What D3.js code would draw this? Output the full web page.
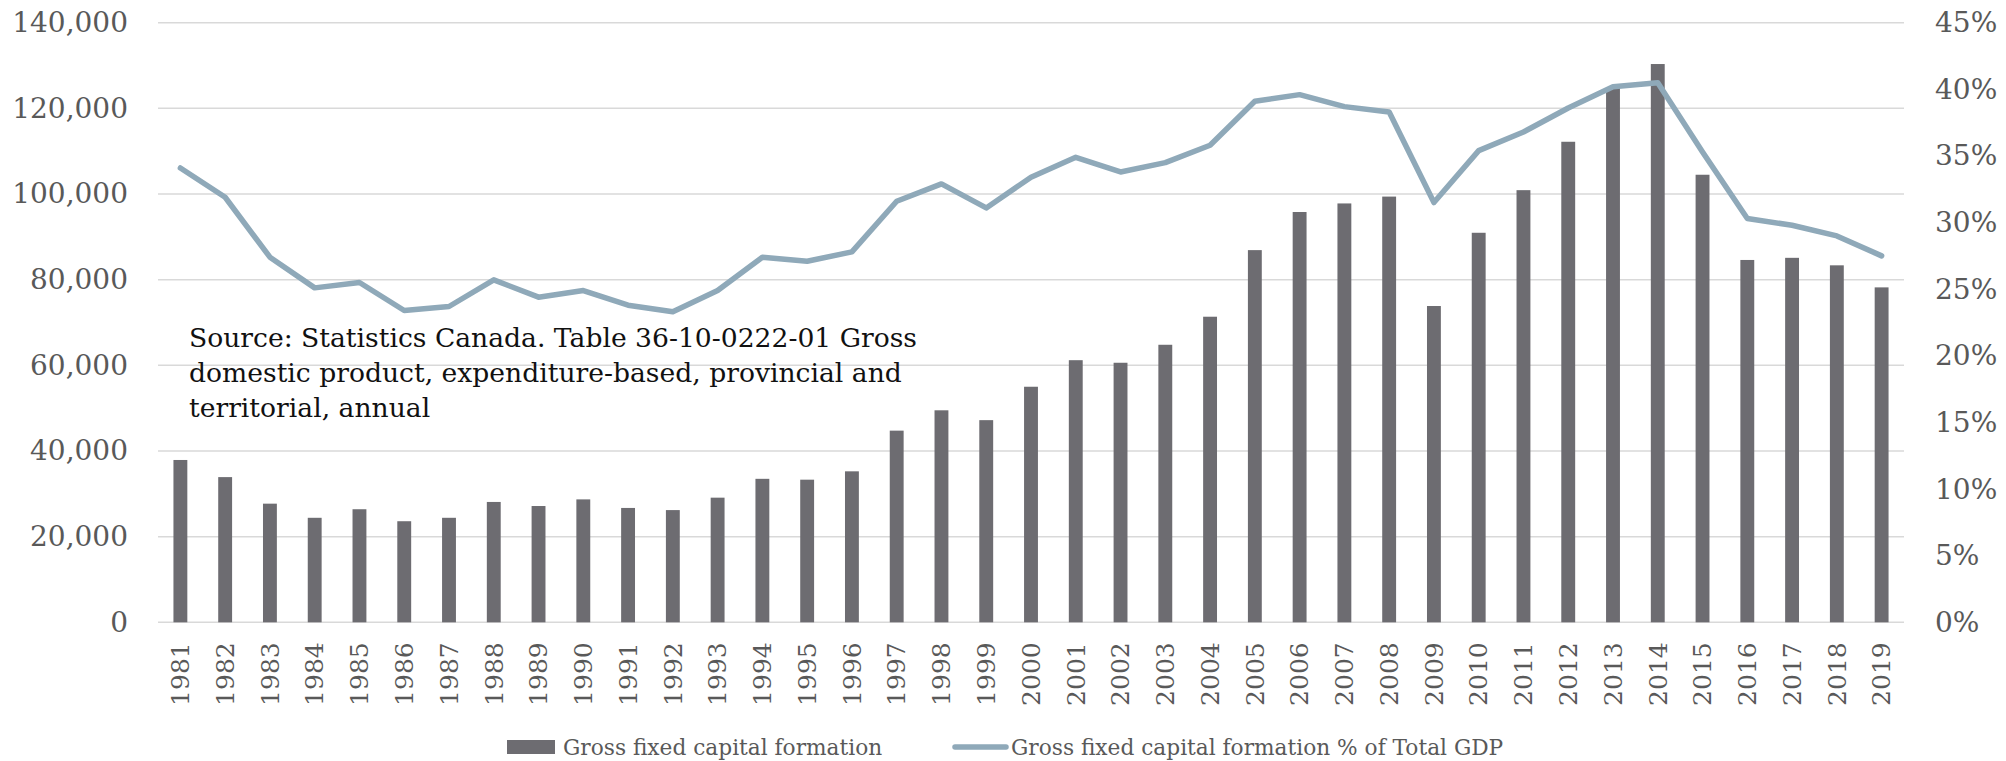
<!DOCTYPE html>
<html>
<head>
<meta charset="utf-8">
<script src="https://cdn.jsdelivr.net/npm/d3@7"></script>
<style>
  html, body { margin: 0; padding: 0; background: #fff; }
  svg { display: block; }
</style>
</head>
<body>
<svg id="chart" width="2006" height="761"></svg>
<script>
const years = ["1981","1982","1983","1984","1985","1986","1987","1988","1989","1990",
  "1991","1992","1993","1994","1995","1996","1997","1998","1999","2000",
  "2001","2002","2003","2004","2005","2006","2007","2008","2009","2010",
  "2011","2012","2013","2014","2015","2016","2017","2018","2019"];
const gfcf = [37900, 33900, 27700, 24400, 26400, 23600, 24400, 28100, 27150, 28700,
  26700, 26200, 29100, 33500, 33300, 35250, 44750, 49500, 47200, 55000,
  61200, 60600, 64800, 71350, 86900, 95800, 97800, 99400, 73850, 90950,
  100900, 112200, 124900, 130350, 104500, 84600, 85100, 83350, 78200];
const gfcfPct = [34.1, 31.9, 27.4, 25.1, 25.5, 23.4, 23.7, 25.7, 24.4, 24.9,
  23.8, 23.3, 24.9, 27.4, 27.1, 27.8, 31.6, 32.9, 31.1, 33.4,
  34.9, 33.8, 34.5, 35.8, 39.1, 39.6, 38.7, 38.3, 31.5, 35.4,
  36.8, 38.6, 40.2, 40.5, 35.3, 30.3, 29.8, 29.0, 27.5];
const leftTicks = [0, 20000, 40000, 60000, 80000, 100000, 120000, 140000];
const rightTicks = [0, 5, 10, 15, 20, 25, 30, 35, 40, 45];
const seriesNames = ["Gross fixed capital formation", "Gross fixed capital formation % of Total GDP"];
const sourceLines = ["Source: Statistics Canada. Table 36-10-0222-01 Gross",
  "domestic product, expenditure-based, provincial and",
  "territorial, annual"];

const FONT = "'DejaVu Serif', 'Liberation Serif', serif";
const svg = d3.select("#chart");
const plot = {left: 158, right: 1904, top: 22.7, bottom: 622.3};

const x = d3.scaleBand().domain(years).range([plot.left, plot.right]).paddingInner(0.69).paddingOuter(0.345);
const y = d3.scaleLinear().domain([0, 140000]).range([plot.bottom, plot.top]);
const y2 = d3.scaleLinear().domain([0, 45]).range([plot.bottom, plot.top]);

// gridlines
svg.append("g").selectAll("line").data(leftTicks).join("line")
  .attr("x1", plot.left).attr("x2", plot.right)
  .attr("y1", d => y(d)).attr("y2", d => y(d))
  .attr("stroke", "#d9d9d9").attr("stroke-width", 1.5);

// left axis
const leftAxis = d3.axisLeft(y).tickValues(leftTicks).tickSize(0).tickPadding(0)
  .tickFormat(d3.format(","));
const gL = svg.append("g").attr("transform", "translate(128,0)").call(leftAxis);
gL.select(".domain").remove();
gL.selectAll("text").attr("font-family", FONT).attr("font-size", 28).attr("fill", "#595959");

// right axis
const rightAxis = d3.axisRight(y2).tickValues(rightTicks).tickSize(0).tickPadding(0)
  .tickFormat(d => d + "%");
const gR = svg.append("g").attr("transform", "translate(1935,0)").call(rightAxis);
gR.select(".domain").remove();
gR.selectAll("text").attr("font-family", FONT).attr("font-size", 28).attr("fill", "#595959");

// bars
svg.append("g").selectAll("rect").data(years).join("rect")
  .attr("x", (d) => x(d))
  .attr("width", x.bandwidth())
  .attr("y", (d, i) => y(gfcf[i]))
  .attr("height", (d, i) => y(0) - y(gfcf[i]))
  .attr("fill", "#6d6c71");

// line
const line = d3.line().x((d, i) => x(years[i]) + x.bandwidth() / 2).y(d => y2(d));
svg.append("path").datum(gfcfPct).attr("d", line)
  .attr("fill", "none").attr("stroke", "#8fa9b9").attr("stroke-width", 5.5)
  .attr("stroke-linejoin", "round").attr("stroke-linecap", "round");

// x axis labels
const xAxis = d3.axisBottom(x).tickSize(0).tickPadding(0);
const gX = svg.append("g").attr("transform", `translate(0,${plot.bottom})`).call(xAxis);
gX.select(".domain").remove();
gX.selectAll("text")
  .attr("font-family", FONT).attr("font-size", 25).attr("fill", "#595959")
  .attr("text-anchor", "end")
  .attr("transform", "rotate(-90)")
  .attr("x", -20).attr("y", 0).attr("dy", "0.35em");

// source text
svg.append("g").selectAll("text").data(sourceLines).join("text")
  .attr("x", 189).attr("y", (d, i) => 347 + i * 35)
  .attr("font-family", FONT).attr("font-size", 26.6).attr("fill", "#111")
  .text(d => d);

// legend
const lg = svg.append("g");
lg.append("rect").attr("x", 507).attr("y", 740).attr("width", 48).attr("height", 14).attr("fill", "#6d6c71");
lg.append("text").attr("x", 563).attr("y", 755).attr("font-family", FONT).attr("font-size", 21.7)
  .attr("fill", "#595959").text(seriesNames[0]);
lg.append("line").attr("x1", 955).attr("x2", 1006).attr("y1", 747).attr("y2", 747)
  .attr("stroke", "#8fa9b9").attr("stroke-width", 5.5).attr("stroke-linecap", "round");
lg.append("text").attr("x", 1011).attr("y", 755).attr("font-family", FONT).attr("font-size", 21.7)
  .attr("fill", "#595959").text(seriesNames[1]);
</script>
</body>
</html>
